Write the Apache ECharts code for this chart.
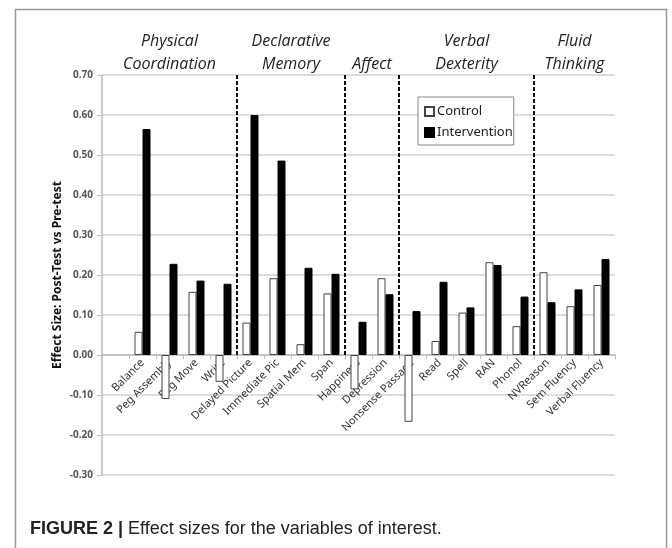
<!DOCTYPE html>
<html>
<head>
<meta charset="utf-8">
<script src="https://cdn.jsdelivr.net/npm/echarts@6/dist/echarts.min.js"></script>
<style>
  html, body { margin: 0; padding: 0; background: #fff; }
  #chart { width: 672px; height: 548px; }
</style>
</head>
<body>
<div id="chart"></div>
<script>
  // first slot is an empty category, as in the original Excel chart
  const categories = ['', 'Balance', 'Peg Assembly', 'Peg Move', 'Write',
    'Delayed Picture', 'Immediate Pic', 'Spatial Mem', 'Span',
    'Happiness', 'Depression',
    'Nonsense Passage', 'Read', 'Spell', 'RAN', 'Phonol',
    'NVReason', 'Sem Fluency', 'Verbal Fluency'];

  const control = [null, 0.058, -0.11, 0.158, -0.067,
    0.081, 0.192, 0.027, 0.154,
    -0.086, 0.192,
    -0.167, 0.035, 0.106, 0.232, 0.072,
    0.207, 0.122, 0.175];

  const intervention = [null, 0.565, 0.228, 0.186, 0.178,
    0.600, 0.486, 0.218, 0.203,
    0.083, 0.152,
    0.110, 0.183, 0.119, 0.225, 0.146,
    0.132, 0.164, 0.240];

  // group boundaries in category units (0..19)
  const groupNames = ['Physical\nCoordination', 'Declarative\nMemory', 'Affect', 'Verbal\nDexterity', 'Fluid\nThinking'];
  const groupBounds = [0, 5, 9, 11, 16, 19];

  const yTicks = { min: -0.3, max: 0.7, interval: 0.1 };

  const grid = { left: 102, right: 57, top: 75, bottom: 73 };
  const plotHeight = 548 - grid.top - grid.bottom;
  // lift the category axis (line + labels) up to the zero line
  const zeroOffset = -plotHeight * (0 - yTicks.min) / (yTicks.max - yTicks.min);

  const chart = echarts.init(document.getElementById('chart'), null, { renderer: 'canvas' });

  const dividers = groupBounds.slice(1, -1).map(x => [
    { coord: [x, yTicks.max] },
    { coord: [x, 0] }
  ]);

  const areas = groupNames.map((name, i) => [
    { xAxis: groupBounds[i], name },
    { xAxis: groupBounds[i + 1] }
  ]);

  chart.setOption({
    animation: false,
    textStyle: { fontFamily: 'Noto Sans' },
    grid,
    legend: {
      orient: 'vertical',
      left: 418,
      top: 97,
      padding: [8, 1, 6, 6],
      itemGap: 8,
      itemWidth: 9,
      itemHeight: 9,
      icon: 'rect',
      borderColor: '#888',
      borderWidth: 1,
      backgroundColor: '#fff',
      textStyle: { fontSize: 13, color: '#222', padding: [0, 0, 0, -2] },
      data: ['Control', 'Intervention']
    },
    xAxis: [
      {
        type: 'category',
        data: categories,
        position: 'bottom',
        offset: zeroOffset,
        axisLine: { onZero: false, lineStyle: { color: '#bbb', width: 1.5 } },
        axisTick: { show: true, interval: 0, length: 4, lineStyle: { color: '#bbb' } },
        axisLabel: {
          interval: 0,
          rotate: 45,
          margin: 6,
          fontSize: 11,
          color: '#333'
        }
      },
      {
        type: 'value',
        min: 0,
        max: categories.length,
        show: false,
        axisLine: { onZero: false }
      }
    ],
    yAxis: {
      type: 'value',
      min: yTicks.min,
      max: yTicks.max,
      interval: yTicks.interval,
      name: 'Effect Size: Post-Test vs Pre-test',
      nameLocation: 'middle',
      nameGap: 38,
      nameMoveOverlap: false,
      nameTextStyle: { fontSize: 12, fontWeight: 'bold', color: '#111' },
      axisLine: { show: true, onZero: false, lineStyle: { color: '#bbb', width: 1.5 } },
      axisTick: { show: true, length: 5, lineStyle: { color: '#bbb' } },
      axisLabel: {
        fontSize: 10,
        fontWeight: 'bold',
        color: '#555',
        margin: 9,
        formatter: v => v.toFixed(2)
      },
      splitLine: { lineStyle: { color: '#d2d2d2', width: 1.5 } }
    },
    series: [
      {
        name: 'Control',
        type: 'bar',
        data: control,
        barWidth: 8,
        barGap: '0%',
        itemStyle: { color: '#fff', borderColor: '#444', borderWidth: 1 }
      },
      {
        name: 'Intervention',
        type: 'bar',
        data: intervention,
        barWidth: 8,
        itemStyle: { color: '#000', borderColor: '#000', borderWidth: 1 }
      },
      {
        // carrier for the group dividers and headers
        type: 'line',
        xAxisIndex: 1,
        data: [[0, 0]],
        symbol: 'none',
        lineStyle: { width: 0 },
        silent: true,
        markLine: {
          symbol: 'none',
          silent: true,
          label: { show: false },
          lineStyle: { color: '#111', type: [4, 2], width: 2 },
          data: dividers
        },
        markArea: {
          silent: true,
          itemStyle: { color: 'rgba(0,0,0,0)' },
          label: {
            show: true,
            position: 'top',
            distance: -1,
            fontSize: 16,
            fontStyle: 'italic',
            lineHeight: 23,
            color: '#222',
            fontFamily: 'Open Sans'
          },
          data: areas
        }
      }
    ],
    graphic: [
      {
        type: 'rect',
        left: 13,
        top: 7,
        shape: { width: 651, height: 560 },
        style: { fill: 'none', stroke: '#999', lineWidth: 1.5 },
        silent: true
      },
      {
        type: 'text',
        left: 30,
        top: 520,
        style: {
          text: '{b|FIGURE 2 |} Effect sizes for the variables of interest.',
          font: '18px "Liberation Sans"',
          fill: '#222',
          rich: {
            b: { font: 'bold 18px "Liberation Sans"', fill: '#222' }
          }
        }
      }
    ]
  });
</script>
</body>
</html>
